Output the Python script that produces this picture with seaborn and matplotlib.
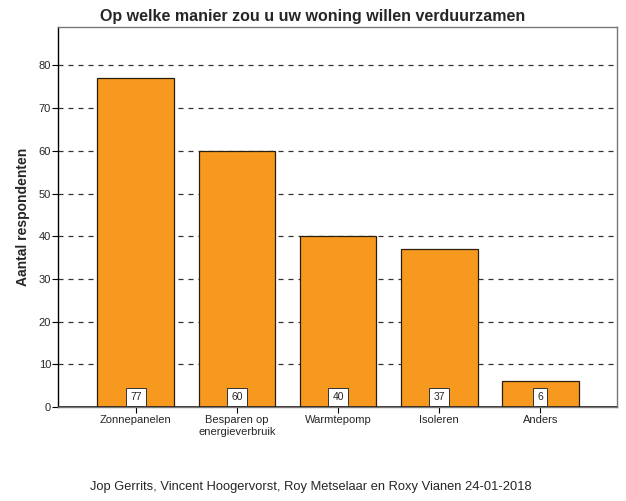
import numpy as np
import pandas as pd
import matplotlib
matplotlib.use('Agg')
import matplotlib.pyplot as plt
import seaborn as sns

categories = ['Zonnepanelen', 'Besparen op\nenergieverbruik', 'Warmtepomp', 'Isoleren', 'Anders']
counts = [77, 60, 40, 37, 6]
y_ticks = [0, 10, 20, 30, 40, 50, 60, 70, 80]

sns.set_style('white')
plt.rcParams['font.family'] = ['Liberation Sans', 'DejaVu Sans']

df = pd.DataFrame({'categorie': categories, 'aantal': counts})

fig = plt.figure(figsize=(6.26, 5.01), dpi=100)
ax = fig.add_axes([0.0927, 0.1876, 0.893, 0.7584])

sns.barplot(data=df, x='categorie', y='aantal', color='#F7991F', saturation=1,
            width=0.76, edgecolor='#2a1e0c', linewidth=0.9, ax=ax, zorder=3)

ax.set_ylim(0, 89)
ax.set_xlim(-0.77, 4.76)
ax.set_yticks(y_ticks)
ax.set_yticklabels([str(t) for t in y_ticks], fontsize=8)
ax.tick_params(axis='y', length=4, width=0.8, color='black', pad=1, left=True)
ax.tick_params(axis='x', length=4, width=0.8, color='black', pad=2, bottom=True, labelsize=8)
for t in y_ticks[1:]:
    ax.axhline(t, color='#333333', linestyle=(0, (4, 4)), linewidth=0.9, zorder=1)
ax.axhline(0, color='#222222', linewidth=1.2, zorder=4)

for s in ['top', 'right', 'bottom']:
    ax.spines[s].set_color('#777777')
    ax.spines[s].set_linewidth(1)
ax.spines['left'].set_color('black')
ax.spines['left'].set_linewidth(1)

for i, v in enumerate(counts):
    ax.text(i, 2.3, str(v), ha='center', va='center', fontsize=7.5, zorder=5,
            bbox=dict(boxstyle='square,pad=0.4', facecolor='white', edgecolor='#333333', linewidth=0.7))

ax.set_xlabel('')
ax.set_ylabel('Aantal respondenten', fontsize=10, fontweight='bold', labelpad=6)

fig.text(0.5, 0.968, 'Op welke manier zou u uw woning willen verduurzamen', ha='center', va='center',
         fontsize=11.5, fontweight='bold')
fig.text(0.497, 0.028, 'Jop Gerrits, Vincent Hoogervorst, Roy Metselaar en Roxy Vianen 24-01-2018',
         ha='center', va='center', fontsize=9.3)

fig.savefig('out.png', dpi=100)
